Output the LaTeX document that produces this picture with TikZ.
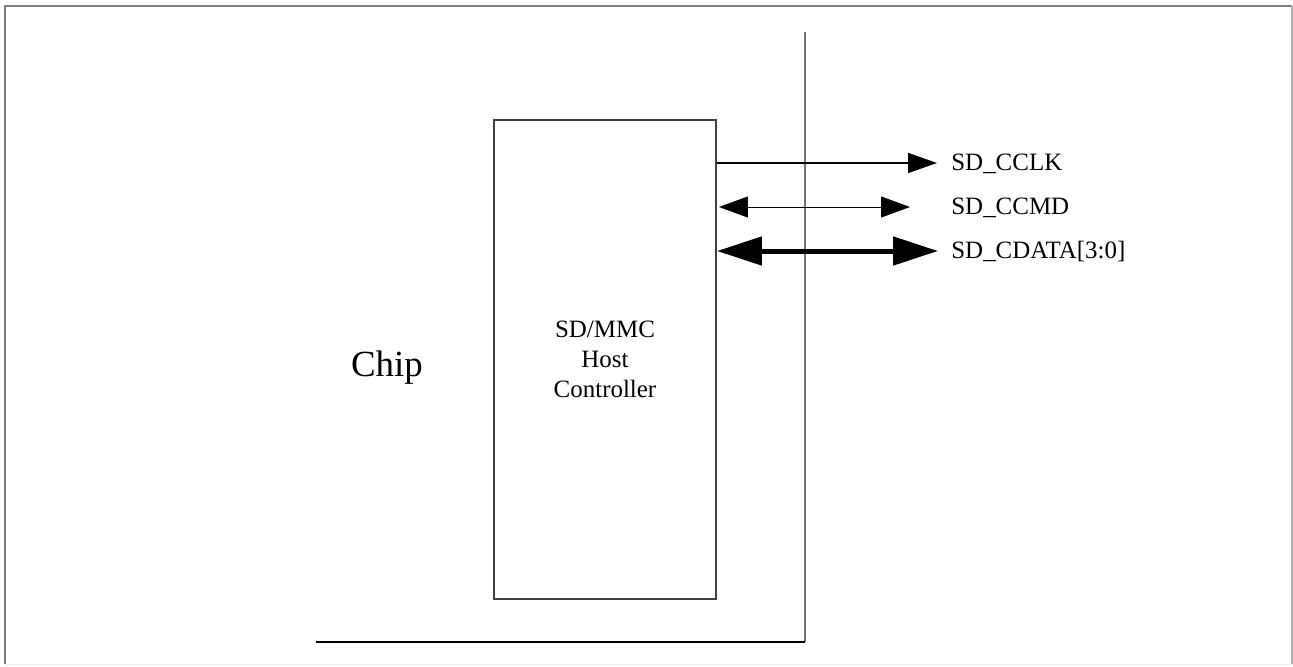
\documentclass[tikz,border=0pt]{standalone}
\usepackage{fontspec}
\setmainfont{Liberation Serif}
\usetikzlibrary{arrows.meta,positioning}

\begin{document}
\begin{tikzpicture}[x=0.02cm,y=-0.02cm]
\tikzstyle{every node}+=[inner sep=0pt]
\tikzstyle{sig}=[font=\fontsize{14.2}{17}\selectfont,anchor=base west]
\tikzstyle{wire}=[black,line width=0.03cm]
\useasboundingbox (0,0) rectangle (1293,666);
% frame
\draw [gray,line width=0.06cm] (5,664) -- (5,6) -- (1292,6);
\draw [gray!60,line width=0.03cm] (1292,6) -- (1292,664);
\draw [gray!15] (5,664) -- (1292,664);
% chip edge
\draw [black!55,line width=0.04cm] (805,32) -- (805,642);
\draw [black,line width=0.04cm] (316,642) -- (805,642);
% blocks
\node (host) [draw=black!75,line width=0.04cm,minimum width=4.44cm,minimum height=9.58cm,
  align=center,font=\fontsize{14.2}{17}\selectfont] at (605,359.5) {SD/MMC\\Host\\Controller};
\node (chip) [font=\fontsize{21}{25}\selectfont] at (387,368) {Chip};
% signals
\node (clk) [sig] at (951,170) {SD\_CCLK};
\node (cmd) [sig] at (951,214) {SD\_CCMD};
\node (dat) [sig] at (951,258) {SD\_CDATA[3:0]};
\coordinate (clkend) at ([shift={(-14,-7)}]clk.base west);
\coordinate (cmdend) at ([shift={(-41,-7)}]cmd.base west);
\coordinate (datend) at ([shift={(-13,-7)}]dat.base west);
\draw [wire,-{Triangle[length=0.58cm,width=0.4cm]}] (host.east |- clkend) -- (clkend);
\draw [wire,line width=0.02cm,{Triangle[length=0.58cm,width=0.42cm]}-{Triangle[length=0.58cm,width=0.42cm]}]
  ([xshift=0.04cm]host.east |- cmdend) -- (cmdend);
\draw [wire,line width=0.1cm,{Triangle[length=0.9cm,width=0.56cm]}-{Triangle[length=0.9cm,width=0.56cm]}]
  (host.east |- datend) -- (datend);
\end{tikzpicture}
\end{document}
